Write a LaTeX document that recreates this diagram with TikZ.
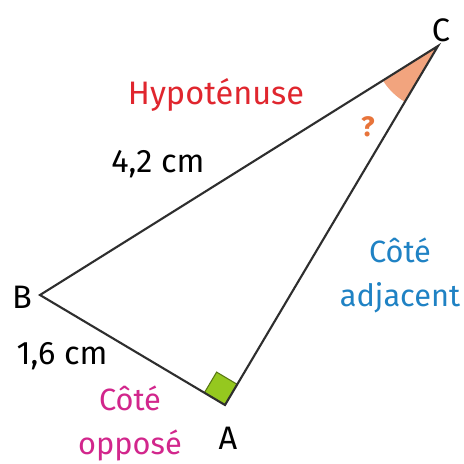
\documentclass[tikz,border=0pt]{standalone}
\usepackage{fontspec}
\setmainfont{Fira Sans}
\usetikzlibrary{calc,angles}
\definecolor{edge}{HTML}{2E2E2E}
\definecolor{hypred}{HTML}{E0262E}
\definecolor{adjblue}{HTML}{1F82C4}
\definecolor{oppmag}{HTML}{D2268C}
\definecolor{wedge}{HTML}{F2A47E}
\definecolor{qorange}{HTML}{E8743A}
\definecolor{rgreen}{HTML}{95C81F}
\tikzset{
  side/.style={draw=edge, line width=1.2pt, line join=miter},
  lbl/.style={font=\fontsize{18.5}{22}\selectfont, inner sep=0pt, align=center},
}
\begin{document}
\begin{tikzpicture}[x=0.02cm,y=-0.02cm]
\useasboundingbox (0,0) rectangle (464,464);
\fill[white] (0,0) rectangle (464,464);
\coordinate (B) at (40,295);
\coordinate (C) at (438,46);
\coordinate (A) at (225,405);
% angle at C
\pic[fill=wedge, draw=none, angle radius=1.3cm] {angle = B--C--A};
% right angle square
\coordinate (ab) at ($(A)!0.48cm!(B)$);
\coordinate (ac) at ($(A)!0.48cm!(C)$);
\coordinate (ad) at ($(ab)+(ac)-(A)$);
\filldraw[fill=rgreen, draw=rgreen!60!black, line width=0.6pt] (A) -- (ab) -- (ad) -- (ac) -- cycle;
% triangle
\draw[side] (A) -- (B) -- (C) -- cycle;
% labels
\node[lbl] (lC) at (441,30) {C};
\node[lbl] (lB) at (22,297) {B};
\node[lbl] (lA) at (228,438) {A};
\node[lbl, text=hypred] (hyp) at (216,95) {Hypoténuse};
\node[lbl] (l42) at (158,164) {4,2 cm};
\node[lbl, text=qorange, font=\fontsize{16}{18}\selectfont\bfseries] (q) at (368,127) {?};
\node[lbl, text=adjblue, align=center, font=\fontsize{17.5}{21}\selectfont] (adj) at (400,275) {Côté\\[4pt]adjacent};
\node[lbl] (l16) at (62,356) {1,6 cm};
\node[lbl, text=oppmag, align=center, font=\fontsize{17.5}{21}\selectfont] (opp) at (130,423) {Côté\\[4pt]opposé};
\end{tikzpicture}
\end{document}
